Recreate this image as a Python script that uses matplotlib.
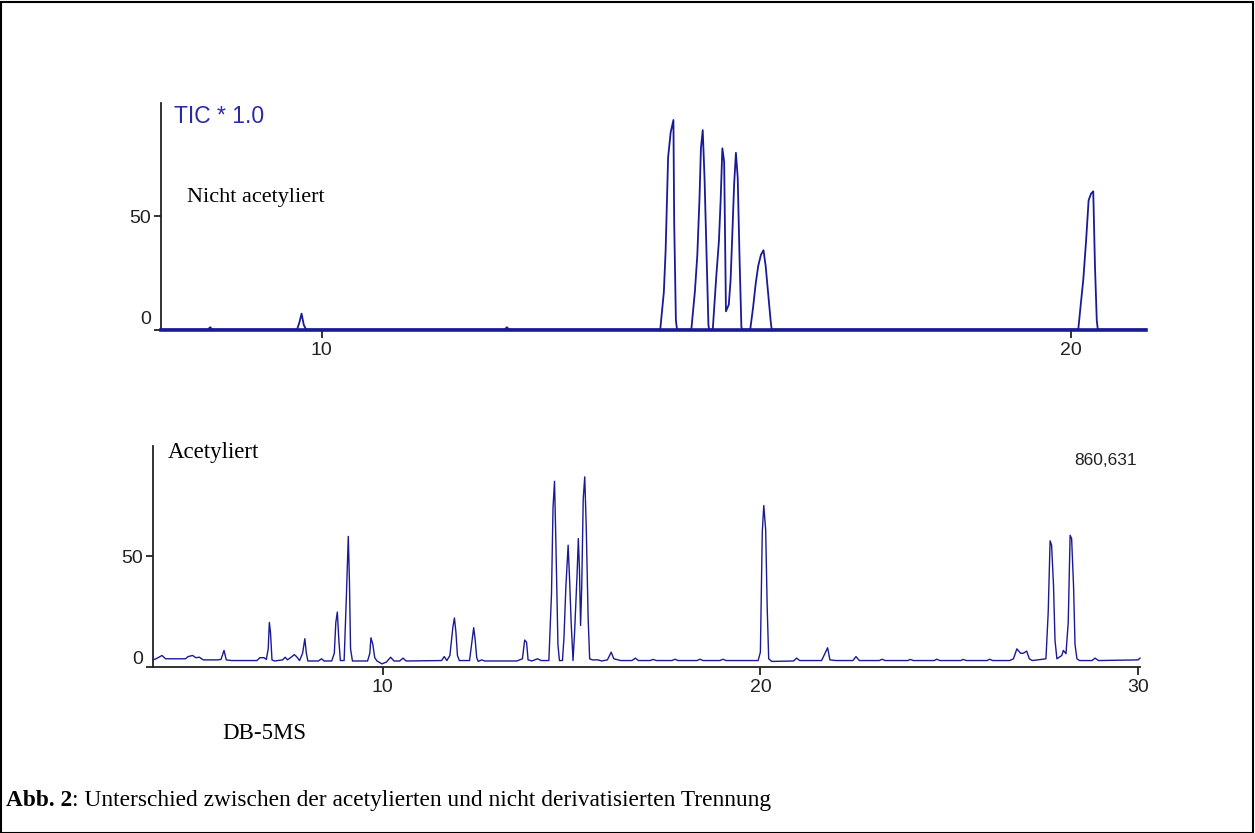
import matplotlib
matplotlib.use("Agg")
import matplotlib.pyplot as plt
from matplotlib.transforms import ScaledTranslation
from matplotlib.patches import Rectangle

# top chromatogram (nicht acetyliert): (retention time [min], rel. intensity)
top_trace = [
    (7.85, 0), (8.48, 0), (8.51, 1), (8.54, 0),
    (9.67, 0), (9.70, 3), (9.73, 7), (9.76, 2), (9.79, 0),
    (12.44, 0), (12.47, 1), (12.50, 0),
    (14.517, 0), (14.565, 16.5), (14.589, 35), (14.622, 76), (14.656, 87),
    (14.693, 92.5), (14.703, 47.5), (14.726, 4), (14.741, 0),
    (14.932, 0), (14.98, 17), (15.012, 33), (15.041, 58), (15.06, 80),
    (15.084, 88), (15.108, 67), (15.136, 32), (15.16, 2), (15.169, 0),
    (15.218, 0), (15.242, 12), (15.266, 24), (15.30, 39), (15.323, 57),
    (15.346, 80), (15.37, 74), (15.394, 8),
    (15.432, 11), (15.456, 22), (15.48, 43), (15.503, 64), (15.527, 78),
    (15.551, 67), (15.575, 32), (15.60, 1), (15.613, 0),
    (15.718, 0), (15.757, 10), (15.79, 20), (15.824, 28), (15.861, 33),
    (15.895, 35), (15.924, 28), (15.957, 16), (15.99, 4), (16.004, 0),
    (20.096, 0), (20.129, 11), (20.163, 22), (20.20, 39), (20.234, 57),
    (20.267, 60), (20.296, 61), (20.319, 28), (20.343, 4), (20.357, 0), (21.0, 0),
]

# bottom chromatogram (acetyliert)
bot_trace = [
    (3.92, 3.0), (4.0, 3.5), (4.16, 5.0), (4.25, 3.5), (4.78, 3.5), (4.85, 4.5),
    (4.97, 5.0), (5.05, 4.0), (5.15, 4.2), (5.25, 3.0), (5.63, 3.0), (5.72, 3.2),
    (5.80, 7.3), (5.86, 3.0), (6.0, 2.7), (6.67, 2.7), (6.75, 4.0), (6.86, 4.0),
    (6.92, 3.2), (6.97, 8), (7.00, 20), (7.03, 15.6), (7.07, 3), (7.14, 2.5),
    (7.35, 3), (7.42, 4.2), (7.48, 3), (7.60, 4.5), (7.66, 5.4), (7.72, 4.5),
    (7.80, 2.7), (7.88, 6), (7.94, 12.6), (7.98, 6), (8.02, 2.5), (8.30, 2.5),
    (8.38, 3.5), (8.45, 2.5), (8.65, 2.5), (8.72, 6), (8.76, 20), (8.80, 24.7),
    (8.84, 12), (8.88, 2.7), (8.98, 2.7), (9.04, 32), (9.09, 59), (9.12, 39),
    (9.15, 8), (9.20, 2.5), (9.60, 2.5), (9.66, 6), (9.69, 13), (9.74, 10),
    (9.79, 4), (9.85, 2.5), (9.98, 1.2), (10.1, 2), (10.21, 4.2), (10.3, 2.5),
    (10.45, 2.5), (10.54, 3.8), (10.62, 2.5), (11.56, 2.7), (11.63, 4.5),
    (11.70, 2.7), (11.78, 5), (11.86, 18), (11.90, 22), (11.94, 15.5), (11.98, 5),
    (12.03, 2.7), (12.30, 2.7), (12.36, 11), (12.41, 17.6), (12.45, 12), (12.49, 4),
    (12.53, 2.3), (12.62, 3), (12.7, 2.5), (13.55, 2.5), (13.70, 3.5), (13.76, 12),
    (13.81, 11), (13.85, 3), (13.95, 2.5), (14.1, 3.5), (14.2, 2.7), (14.40, 2.7),
    (14.44, 20), (14.47, 33), (14.51, 72), (14.55, 84), (14.59, 53), (14.64, 10),
    (14.68, 2.7), (14.76, 2.7), (14.80, 13), (14.85, 36), (14.91, 55), (14.95, 39),
    (14.99, 20), (15.04, 2.7), (15.08, 15), (15.15, 43), (15.18, 58), (15.21, 44),
    (15.24, 18.6), (15.27, 36), (15.31, 76), (15.35, 86), (15.39, 63), (15.44, 22),
    (15.48, 3.5), (15.55, 3.0), (15.70, 3.0), (15.80, 2.5), (15.95, 3), (16.05, 6.5),
    (16.12, 3.5), (16.3, 2.7), (16.6, 2.7), (16.69, 3.8), (16.77, 2.7), (17.08, 2.7),
    (17.16, 3.2), (17.25, 2.7), (17.66, 2.7), (17.74, 3.3), (17.82, 2.7), (18.32, 2.7),
    (18.40, 3.3), (18.48, 2.7), (18.93, 2.7), (19.01, 3.3), (19.09, 2.7), (19.94, 2.7),
    (20.00, 6.5), (20.05, 61), (20.09, 73), (20.14, 62), (20.18, 27), (20.22, 3.5),
    (20.3, 2.3), (20.88, 2.5), (20.96, 3.8), (21.04, 2.7), (21.62, 2.7), (21.71, 6),
    (21.78, 8.5), (21.84, 3), (22.0, 2.7), (22.45, 2.7), (22.53, 4.5), (22.62, 2.7),
    (23.15, 2.7), (23.22, 3.3), (23.3, 2.7), (23.9, 2.7), (23.97, 3.2), (24.05, 2.7),
    (24.6, 2.7), (24.67, 3.3), (24.75, 2.7), (25.3, 2.7), (25.37, 3.2), (25.45, 2.7),
    (26.0, 2.7), (26.07, 3.3), (26.15, 2.7), (26.60, 2.7), (26.70, 3.5), (26.79, 8),
    (26.89, 6), (26.96, 6), (27.05, 7), (27.12, 3.5), (27.2, 2.7), (27.56, 3.5),
    (27.62, 24.7), (27.67, 57), (27.71, 55), (27.76, 36.8), (27.80, 11.8), (27.85, 3.5),
    (27.98, 5), (28.02, 7.3), (28.09, 5.8), (28.15, 20), (28.20, 59.5), (28.24, 58),
    (28.29, 36.8), (28.33, 10), (28.38, 3.5), (28.45, 2.7), (28.78, 2.7), (28.86, 3.8),
    (28.95, 2.7), (30.0, 3.0), (30.05, 3.8),
]

top_xticks = [10, 20]
bot_xticks = [10, 20, 30]
yticks = [0, 50]

navy = "#1a1a96"
W, H = 1255, 833

fig = plt.figure(figsize=(W / 100, H / 100), dpi=100)

def px(x0, y0, x1, y1):
    return [x0 / W, 1 - y1 / H, (x1 - x0) / W, (y1 - y0) / H]

ax1 = fig.add_axes(px(160.7, 103, 1146, 329.5))
ax2 = fig.add_axes(px(153, 446, 1140, 666.5))

t1, y1 = zip(*top_trace)
ax1.plot(t1, y1, color=navy, lw=1.3, clip_on=False, zorder=3)
ax1.axhline(0, color=navy, lw=2.6, clip_on=False, zorder=4)
ax1.set_xlim(7.85, 21.0)
ax1.set_xticks(top_xticks)

t2, y2 = zip(*bot_trace)
ax2.plot(t2, y2, color=navy, lw=1.0, clip_on=False, zorder=3)
ax2.set_xlim(3.92, 30.05)
ax2.set_xticks(bot_xticks)

for ax, lift in [(ax1, 12), (ax2, 9)]:
    ax.set_ylim(0, 100)
    ax.set_yticks(yticks)
    for s in ["top", "right"]:
        ax.spines[s].set_visible(False)
    for s in ["left", "bottom"]:
        ax.spines[s].set_linewidth(1.3)
        ax.spines[s].set_color("#222222")
    ax.tick_params(axis="x", length=6, width=1.3, pad=3, labelsize=14, colors="#222222")
    ax.tick_params(axis="y", length=5, width=1.3, pad=2, labelsize=14, colors="#222222")
    for lab in ax.get_xticklabels() + ax.get_yticklabels():
        lab.set_family("Liberation Sans")
    # the "0" label sits above its tick in the original
    zero = ax.get_yticklabels()[0]
    zero.set_transform(zero.get_transform() + ScaledTranslation(0, lift / 100, fig.dpi_scale_trans))

fig.text(174 / W, 1 - 123.3 / H, "TIC * 1.0", color="#2a2aa8", fontsize=16.5,
         family="Liberation Sans", va="baseline")
fig.text(186.7 / W, 1 - 201.7 / H, "Nicht acetyliert", fontsize=16,
         family="Liberation Serif", va="baseline")
fig.text(168 / W, 1 - 458 / H, "Acetyliert", fontsize=16.5,
         family="Liberation Serif", va="baseline")
fig.text(1137 / W, 1 - 465 / H, "860,631", fontsize=12.5, color="#222222",
         family="Liberation Sans", va="baseline", ha="right")
fig.text(222 / W, 1 - 739 / H, "DB-5MS", fontsize=16.5,
         family="Liberation Serif", va="baseline")

cap_bold = fig.text(6 / W, 1 - 806 / H, "Abb. 2", fontsize=16.8, fontweight="bold",
                    family="Liberation Serif", va="baseline")
r = fig.canvas.get_renderer()
bb = cap_bold.get_window_extent(renderer=r)
fig.text(bb.x1 / W, 1 - 806 / H,
         ": Unterschied zwischen der acetylierten und nicht derivatisierten Trennung",
         fontsize=16.8, family="Liberation Serif", va="baseline")

# frame round the whole figure
fig.patches.append(Rectangle((0.001, 0.0), 0.9975, 0.998, transform=fig.transFigure,
                             fill=False, edgecolor="black", lw=1.5))

fig.savefig("out.png", dpi=100)
